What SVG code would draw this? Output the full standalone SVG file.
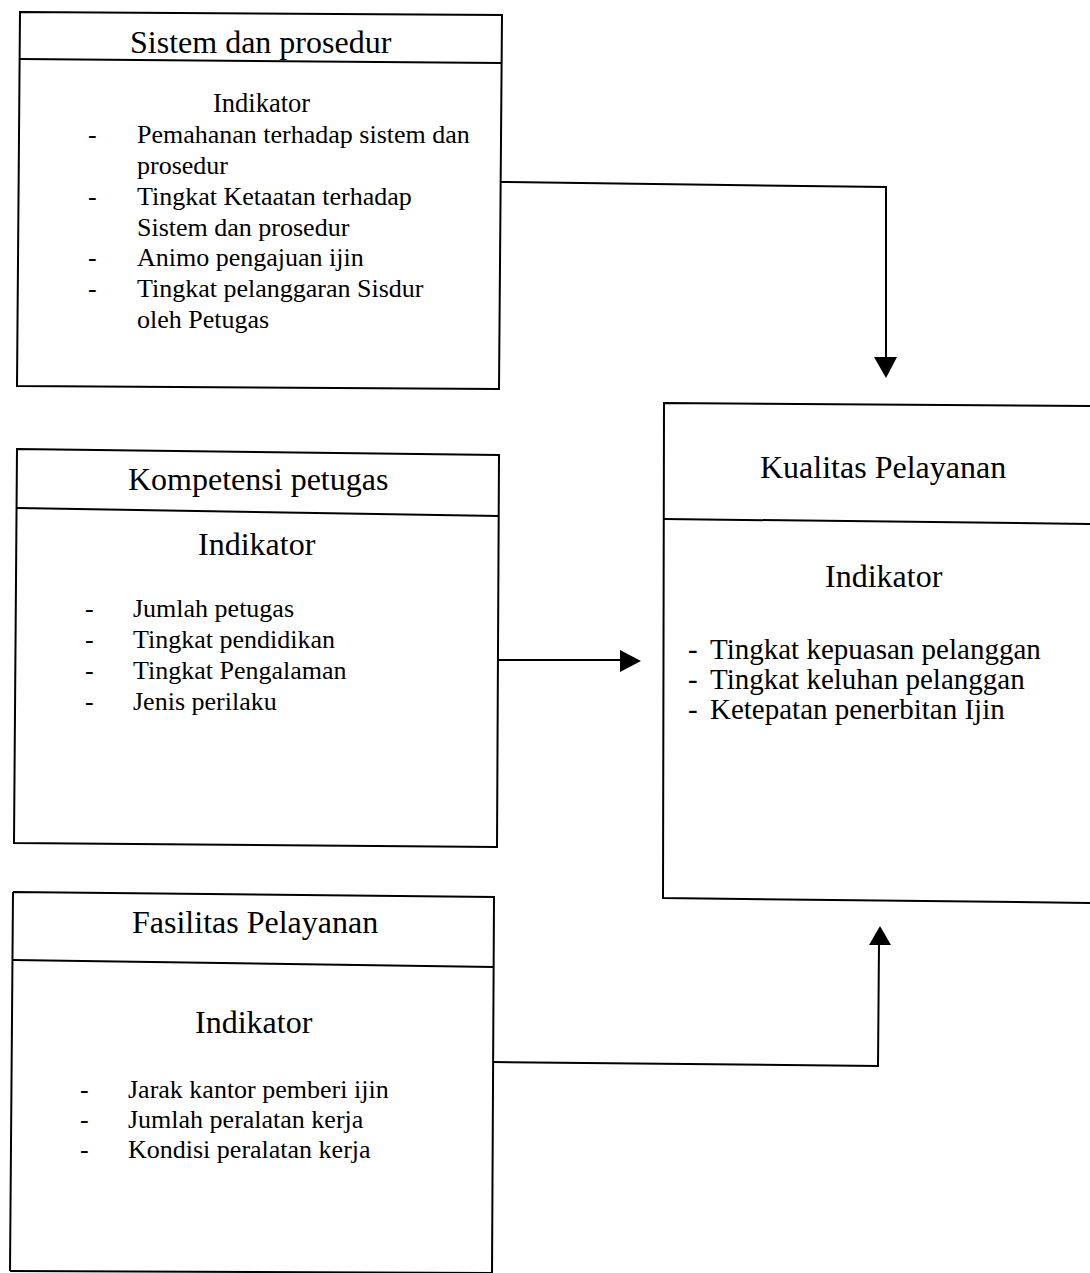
<svg xmlns="http://www.w3.org/2000/svg" width="1090" height="1273" viewBox="0 0 1090 1273">
  <style>
    .frame { fill: none; stroke: #000; stroke-width: 2; stroke-linejoin: miter; }
    .wire { fill: none; stroke: #000; stroke-width: 2; }
    .head { fill: #000; stroke: none; }
    text { font-family: "Liberation Serif", "Times New Roman", serif; fill: #000; }
    .title { font-size: 32px; }
    .ind { font-size: 32px; }
    .ind-s { font-size: 26.5px; }
    .item { font-size: 26px; }
    .item-l { font-size: 29px; }
  </style>

  <rect x="0" y="0" width="1090" height="1273" fill="#fff"/>

  <!-- Sistem dan prosedur -->
  <g id="sistem-prosedur">
    <path class="frame" d="M20,12 L502,15 L499,389 L17,386 Z"/>
    <path class="frame" d="M20,59 L502,63"/>
    <text class="title" x="130" y="53">Sistem dan prosedur</text>
    <text class="ind-s" x="213" y="112">Indikator</text>
    <g class="item">
      <text x="88" y="143">-</text>
      <text x="137" y="143">Pemahanan terhadap sistem dan</text>
      <text x="137" y="174">prosedur</text>
      <text x="88" y="205">-</text>
      <text x="137" y="205">Tingkat Ketaatan terhadap</text>
      <text x="137" y="236">Sistem dan prosedur</text>
      <text x="88" y="266">-</text>
      <text x="137" y="266">Animo pengajuan ijin</text>
      <text x="88" y="297">-</text>
      <text x="137" y="297">Tingkat pelanggaran Sisdur</text>
      <text x="137" y="328">oleh Petugas</text>
    </g>
  </g>

  <!-- Kompetensi petugas -->
  <g id="kompetensi-petugas">
    <path class="frame" d="M17,449 L499,455 L497,847 L14,843 Z"/>
    <path class="frame" d="M17,508 L499,516"/>
    <text class="title" x="128" y="490">Kompetensi petugas</text>
    <text class="ind" x="198" y="555">Indikator</text>
    <g class="item">
      <text x="85" y="617">-</text>
      <text x="133" y="617">Jumlah petugas</text>
      <text x="85" y="648">-</text>
      <text x="133" y="648">Tingkat pendidikan</text>
      <text x="85" y="679">-</text>
      <text x="133" y="679">Tingkat Pengalaman</text>
      <text x="85" y="710">-</text>
      <text x="133" y="710">Jenis perilaku</text>
    </g>
  </g>

  <!-- Fasilitas Pelayanan -->
  <g id="fasilitas-pelayanan">
    <path class="frame" d="M13,892 L494,897 L492,1275 M10,1271 L13,892"/>
    <path class="frame" d="M10,1271 L492,1273"/>
    <path class="frame" d="M13,960 L494,967"/>
    <text class="title" x="132" y="933">Fasilitas Pelayanan</text>
    <text class="ind" x="195" y="1033">Indikator</text>
    <g class="item">
      <text x="80" y="1098">-</text>
      <text x="128" y="1098">Jarak kantor pemberi ijin</text>
      <text x="80" y="1128">-</text>
      <text x="128" y="1128">Jumlah peralatan kerja</text>
      <text x="80" y="1158">-</text>
      <text x="128" y="1158">Kondisi peralatan kerja</text>
    </g>
  </g>

  <!-- Kualitas Pelayanan (runs past the right edge) -->
  <g id="kualitas-pelayanan">
    <path class="frame" d="M1100,406 L664,403 L663,898 L1100,903"/>
    <path class="frame" d="M664,519 L1100,524"/>
    <text class="title" x="760" y="478">Kualitas Pelayanan</text>
    <text class="ind" x="825" y="587">Indikator</text>
    <g class="item-l">
      <text x="688" y="659">-</text>
      <text x="710" y="659">Tingkat kepuasan pelanggan</text>
      <text x="688" y="689">-</text>
      <text x="710" y="689">Tingkat keluhan pelanggan</text>
      <text x="688" y="719">-</text>
      <text x="710" y="719">Ketepatan penerbitan Ijin</text>
    </g>
  </g>

  <!-- connectors -->
  <g id="connectors">
    <path class="wire" d="M501,182 L886,187 L886,358"/>
    <polygon class="head" points="874,357 897,357 886,378"/>

    <path class="wire" d="M497,660 L621,660"/>
    <polygon class="head" points="620,650 620,672 641,661"/>

    <path class="wire" d="M493,1062 L878,1066 L879,944"/>
    <polygon class="head" points="869,945 891,945 880,926"/>
  </g>
</svg>
